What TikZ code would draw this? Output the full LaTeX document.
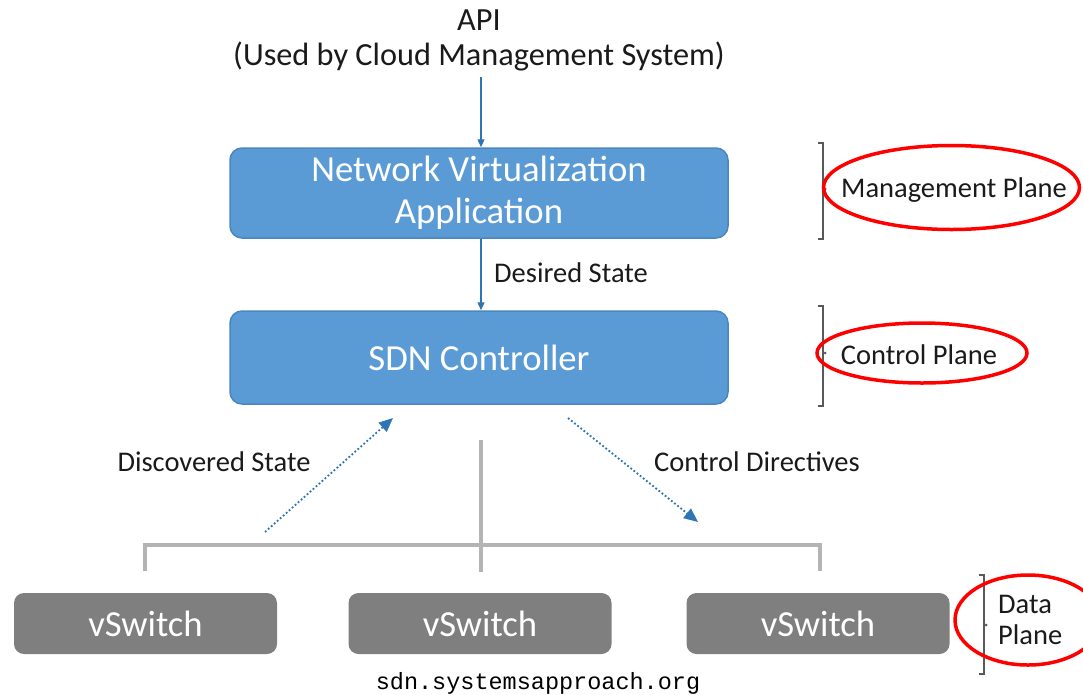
\documentclass[tikz,border=0pt]{standalone}
\usepackage{fontspec}
\setmainfont{Carlito}
\setmonofont{Liberation Mono}
\usetikzlibrary{arrows.meta}
\definecolor{boxblue}{HTML}{5B9BD5}
\definecolor{boxedge}{HTML}{4A86C0}
\definecolor{arrblue}{HTML}{2E75B6}
\definecolor{boxgray}{HTML}{7F7F7F}
\definecolor{linegray}{HTML}{B4B4B4}
\definecolor{brkgray}{HTML}{595959}
\definecolor{txt}{HTML}{1A1A1A}
\tikzset{
  bluebox/.style={draw=boxedge, line width=1.5pt, fill=boxblue, rounded corners=12pt, text=white, align=center, font=\fontsize{36.7}{42}\selectfont},
  graybox/.style={fill=boxgray, rounded corners=10pt, text=white, minimum width=263pt, minimum height=61pt, font=\fontsize{36.7}{40}\selectfont},
  solidarr/.style={draw=arrblue, line width=1.3pt, -{Triangle[length=8pt,width=7pt]}},
  dotarr/.style={draw=arrblue, line width=1.8pt, dash pattern=on 1.8pt off 2.2pt, -{Triangle[length=14pt,width=12pt]}},
  grayline/.style={draw=linegray, line width=3.5pt},
  brk/.style={draw=brkgray, line width=1.6pt},
  lbl/.style={text=txt, font=\fontsize{28.5}{31}\selectfont, inner sep=0pt},
  redring/.style={draw=red, line width=3.5pt},
}
\begin{document}
\begin{tikzpicture}[x=1pt,y=-1pt]
\useasboundingbox (0,0) rectangle (1083,694);
% top API text
\node[text=txt, align=center, font=\fontsize{32.3}{35}\selectfont, inner sep=0pt] (api) at (479,40) {API\\(Used by Cloud Management System)};
% boxes
\node[bluebox, minimum width=498pt, minimum height=90pt] (nva) at (479,193) {Network Virtualization\\Application};
\node[bluebox, minimum width=498pt, minimum height=93pt] (sdn) at (479,357.5) {SDN Controller};
\node[graybox] (vs1) at (145.5,623.5) {vSwitch};
\node[graybox] (vs2) at (480,623.5) {vSwitch};
\node[graybox] (vs3) at (818,623.5) {vSwitch};
% solid arrows
\coordinate (apiout) at (481,77);
\draw[solidarr] (apiout) -- (nva.north -| apiout);
\draw[solidarr] (nva.south -| apiout) -- (sdn.north -| apiout);
\node[lbl, anchor=west] (desired) at (494,273) {Desired State};
% dotted arrows
\coordinate (dsA) at (265,532);
\coordinate (dsB) at (393,418);
\coordinate (cdA) at (568,418);
\coordinate (cdB) at (698,522);
\draw[dotarr] (dsA) -- (dsB);
\draw[dotarr] (cdA) -- (cdB);
\node[lbl] (disc) at (214,462) {Discovered State};
\node[lbl] (ctrl) at (757,462) {Control Directives};
% gray connecting lines
\coordinate (hubtop) at (481,440);
\coordinate (hubbot) at (481,572);
\coordinate (busL) at (145,571);
\coordinate (busR) at (820,571);
\draw[grayline] (hubtop) -- (hubbot);
\draw[grayline, line join=miter] (busL) -- (145,545) -- (820,545) -- (busR);
% brackets
\draw[brk] (818,143) -- (823,143) -- (823,239) -- (818,239);
\fill[brkgray] (825,189) circle (1.5pt);
\draw[brk] (818,306) -- (823,306) -- (823,406) -- (818,406);
\fill[brkgray] (825,353) circle (1.5pt);
\draw[brk] (979,575) -- (984,575) -- (984,674) -- (979,674);
\fill[brkgray] (986,625) circle (1.5pt);
% plane labels
\node[lbl] (mgmt) at (954,190) {Management Plane};
\node[lbl] (cplane) at (919,355) {Control Plane};
\node[lbl, anchor=west, align=left] (dplane) at (998,620) {Data\\Plane};
% red ellipses
\draw[redring] (951.5,187.5) ellipse [x radius=128pt, y radius=42pt];
\draw[redring] (922,353) ellipse [x radius=105pt, y radius=30pt];
\draw[redring] (1028,620) ellipse [x radius=73pt, y radius=45pt];
% footer
\node[text=black, font=\ttfamily\fontsize{23.5}{28}\selectfont, inner sep=0pt] (footer) at (538,683) {sdn.systemsapproach.org};
\end{tikzpicture}
\end{document}
